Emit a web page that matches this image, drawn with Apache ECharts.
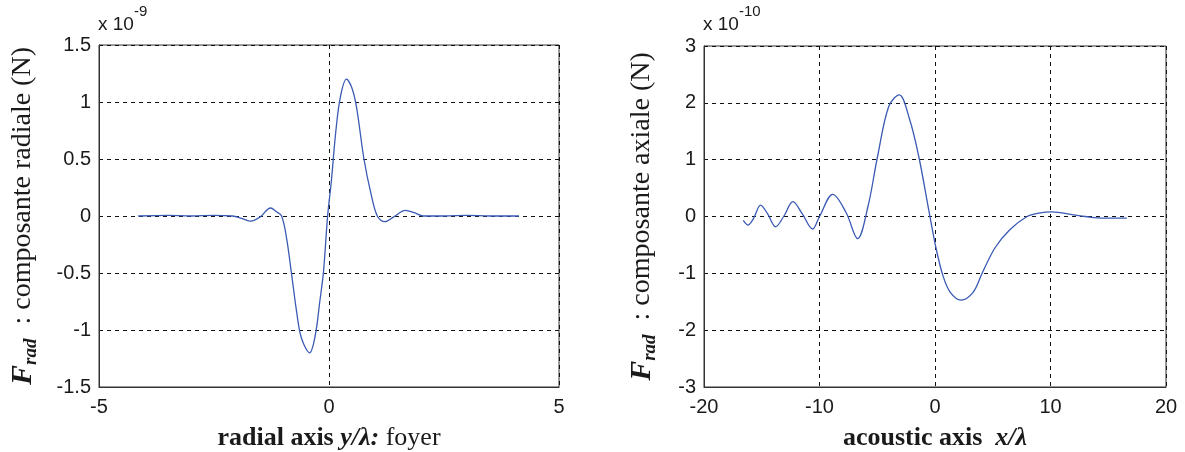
<!DOCTYPE html>
<html>
<head>
<meta charset="utf-8">
<script src="https://cdn.jsdelivr.net/npm/echarts@6/dist/echarts.min.js"></script>
<style>
html,body{margin:0;padding:0;background:#fff;}
#chart{width:1185px;height:452px;}
</style>
</head>
<body>
<div id="chart"></div>
<script>
// Left panel: radial component (values in units of 1e-9 N)
const radialX = [-4.15,-3.5,-3.0,-2.5,-2.1,-1.9,-1.7,-1.5,-1.27,-1.15,-1.03,-0.92,-0.82,-0.7,-0.6,-0.42,-0.3,-0.2,-0.12,-0.03,0.05,0.15,0.25,0.38,0.5,0.6,0.76,0.91,1.05,1.21,1.4,1.66,1.85,2.05,2.5,3.0,3.5,4.13];
const radialY = [0.0,0.005,0.0,0.005,0.0,-0.02,-0.045,-0.01,0.07,0.04,0.0,-0.2,-0.49,-0.85,-1.07,-1.2,-1.05,-0.75,-0.49,0.0,0.3,0.75,1.05,1.2,1.12,0.95,0.5,0.2,0.0,-0.05,-0.01,0.05,0.03,0.0,0.0,0.005,0.0,0.0];

// Right panel: axial component (values in units of 1e-10 N)
const axialX = [-16.6,-16.2,-15.7,-15.1,-14.5,-13.8,-13.1,-12.3,-11.5,-10.6,-10.0,-8.85,-7.7,-6.7,-5.8,-4.97,-4.0,-3.1,-2.2,-1.41,-0.6,0.05,0.7,1.34,2.25,3.28,4.1,5.2,6.5,7.97,9.0,10.1,12.0,13.0,14.6,16.6];
const axialY = [-0.07,-0.15,-0.03,0.2,0.05,-0.18,0.0,0.26,0.05,-0.22,0.0,0.39,0.07,-0.39,0.18,1.06,1.94,2.14,1.71,1.06,0.18,-0.52,-1.05,-1.34,-1.47,-1.34,-0.99,-0.55,-0.23,0.0,0.06,0.08,0.03,0.0,-0.03,-0.03];

const leftXTicks = {min:-5, max:5, interval:5};
const leftYTicks = {min:-1.5, max:1.5, interval:0.5};
const rightXTicks = {min:-20, max:20, interval:10};
const rightYTicks = {min:-3, max:3, interval:1};

const leftXName = ['radial axis ', 'y/λ', ':', ' foyer'];
const rightXName = ['acoustic axis  ', 'x/λ'];
const leftYName = ['F', 'rad', '  : composante radiale (N)'];
const rightYName = ['F', 'rad', '  : composante axiale (N)'];
const leftExp = ['x 10', '-9'];
const rightExp = ['x 10', '-10'];

const SANS = '"Liberation Sans", Arial, sans-serif';
const SERIF = '"Liberation Serif", "Times New Roman", serif';
const TXT = '#1a1a1a';
const LINE = '#3a5ab4';

function zip(a,b){return a.map((v,i)=>[v,b[i]]);}

function yNameRich(){
  return {
    F:{fontFamily:SERIF,fontSize:30,fontWeight:'bold',fontStyle:'italic',color:TXT,lineHeight:36,verticalAlign:'middle'},
    sub:{fontFamily:SERIF,fontSize:19,fontWeight:'bold',fontStyle:'italic',color:TXT,lineHeight:36,verticalAlign:'bottom'},
    n:{fontFamily:SERIF,fontSize:28,color:TXT,lineHeight:36,verticalAlign:'middle'}
  };
}
function xNameRich(){
  return {
    b:{fontFamily:SERIF,fontSize:26,fontWeight:'bold',color:TXT},
    bi:{fontFamily:SERIF,fontSize:26,fontWeight:'bold',fontStyle:'italic',color:TXT},
    n:{fontFamily:SERIF,fontSize:26,color:TXT}
  };
}
const expRich = {
  a:{fontFamily:SANS,fontSize:19,fontWeight:'normal',color:TXT,lineHeight:30,verticalAlign:'bottom'},
  s:{fontFamily:SANS,fontSize:15,fontWeight:'normal',color:TXT,lineHeight:30,verticalAlign:'top'}
};

function xAxis(gi, ticks, nameParts, isLeft){
  const name = isLeft
    ? '{b|'+nameParts[0]+'}{bi|'+nameParts[1]+'}{bi|'+nameParts[2]+'}{n|'+nameParts[3]+'}'
    : '{b|'+nameParts[0]+'}{bi|'+nameParts[1]+'}';
  return {
    type:'value', gridIndex:gi, min:ticks.min, max:ticks.max, interval:ticks.interval,
    name:name, nameLocation:'middle', nameGap:38,
    nameTextStyle:{rich:xNameRich()},
    axisLine:{show:true,onZero:false,lineStyle:{color:'#333',width:1}},
    axisTick:{show:false},
    axisLabel:{fontFamily:SANS,fontSize:20,color:TXT,margin:10},
    splitLine:{show:true,lineStyle:{color:'#111',type:[4,4],width:1}}
  };
}
function yAxis(gi, ticks, nameParts, gap){
  return {
    type:'value', gridIndex:gi, min:ticks.min, max:ticks.max, interval:ticks.interval,
    name:'{F|'+nameParts[0]+'}{sub|'+nameParts[1]+'}{n|'+nameParts[2]+'}',
    nameLocation:'middle', nameGap:gap, nameRotate:90,
    nameTextStyle:{rich:yNameRich()},
    axisLine:{show:true,onZero:false,lineStyle:{color:'#333',width:1}},
    axisTick:{show:false},
    axisLabel:{fontFamily:SANS,fontSize:20,color:TXT,margin:8},
    splitLine:{show:true,lineStyle:{color:'#111',type:[4,4],width:1}}
  };
}

const chart = echarts.init(document.getElementById('chart'), null, {renderer:'canvas'});
chart.setOption({
  animation:false,
  backgroundColor:'#fff',
  title:[
    {text:'{a|'+leftExp[0]+'}{s|'+leftExp[1]+'}', left:98, top:4, padding:0, textStyle:{fontWeight:'normal',rich:expRich}},
    {text:'{a|'+rightExp[0]+'}{s|'+rightExp[1]+'}', left:703, top:4, padding:0, textStyle:{fontWeight:'normal',rich:expRich}}
  ],
  grid:[
    {left:99, right:626, top:45, bottom:65, show:true, borderColor:'#333', borderWidth:1, containLabel:false, outerBoundsMode:'none'},
    {left:704, right:19, top:46, bottom:65, show:true, borderColor:'#333', borderWidth:1, containLabel:false, outerBoundsMode:'none'}
  ],
  xAxis:[ xAxis(0, leftXTicks, leftXName, true), xAxis(1, rightXTicks, rightXName, false) ],
  yAxis:[ yAxis(0, leftYTicks, leftYName, 58), yAxis(1, rightYTicks, rightYName, 44) ],
  series:[
    {type:'line', xAxisIndex:0, yAxisIndex:0, data:zip(radialX, radialY), smooth:0.35, showSymbol:false, lineStyle:{color:LINE,width:1.3}},
    {type:'line', xAxisIndex:1, yAxisIndex:1, data:zip(axialX, axialY), smooth:0.35, showSymbol:false, lineStyle:{color:LINE,width:1.3}}
  ]
});
</script>
</body>
</html>
